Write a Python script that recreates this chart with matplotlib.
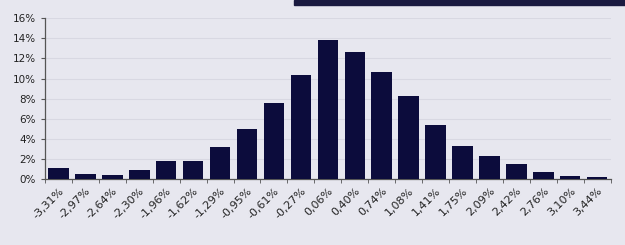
import numpy as np
import matplotlib
matplotlib.use('Agg')
import matplotlib.pyplot as plt
from matplotlib.ticker import FuncFormatter
from matplotlib.patches import Rectangle

# bin centres (daily returns) and share of observations
bins = ['-3,31%', '-2,97%', '-2,64%', '-2,30%', '-1,96%', '-1,62%', '-1,29%',
        '-0,95%', '-0,61%', '-0,27%', '0,06%', '0,40%', '0,74%', '1,08%',
        '1,41%', '1,75%', '2,09%', '2,42%', '2,76%', '3,10%', '3,44%']
freq = [1.1, 0.5, 0.4, 0.9, 1.8, 1.8, 3.2, 5.0, 7.6, 10.4, 13.8, 12.6, 10.7,
        8.3, 5.4, 3.3, 2.3, 1.5, 0.7, 0.3, 0.2]

bg = '#e7e7ef'
bar_color = '#0c0c3c'

fig = plt.figure(figsize=(6.25, 2.45), dpi=100, facecolor=bg)
ax = fig.add_axes([0.072, 0.27, 0.905, 0.655], facecolor=bg)

# dark strip at the top edge of the photo
fig.patches.append(Rectangle((0.47, 0.978), 0.53, 0.022, transform=fig.transFigure,
                             color='#1a1a40', zorder=0))

x = np.arange(len(bins))
ax.bar(x, freq, width=0.76, color=bar_color, zorder=3)

ax.set_xlim(-0.5, len(bins) - 0.5)
ax.set_ylim(0, 16)
ax.set_yticks(np.arange(0, 17, 2))
ax.yaxis.set_major_formatter(FuncFormatter(lambda v, p: '%d%%' % v))
ax.grid(axis='y', color='#d8d8e2', linewidth=0.8, zorder=0)

ax.set_xticks(x)
ax.set_xticklabels(bins, rotation=45, ha='right', rotation_mode='anchor',
                   fontsize=8, color='#222222')
ax.set_xticks(np.arange(-0.5, len(bins)), minor=True)
ax.tick_params(axis='x', which='major', length=0, pad=5)
ax.tick_params(axis='x', which='minor', length=3, color='#555555')
ax.tick_params(axis='y', labelsize=7.5, length=3, color='#555555', labelcolor='#222222')

for s in ['top', 'right']:
    ax.spines[s].set_visible(False)
for s in ['left', 'bottom']:
    ax.spines[s].set_color('#555555')
    ax.spines[s].set_linewidth(0.9)

fig.savefig('out.png', dpi=100, facecolor=bg)
